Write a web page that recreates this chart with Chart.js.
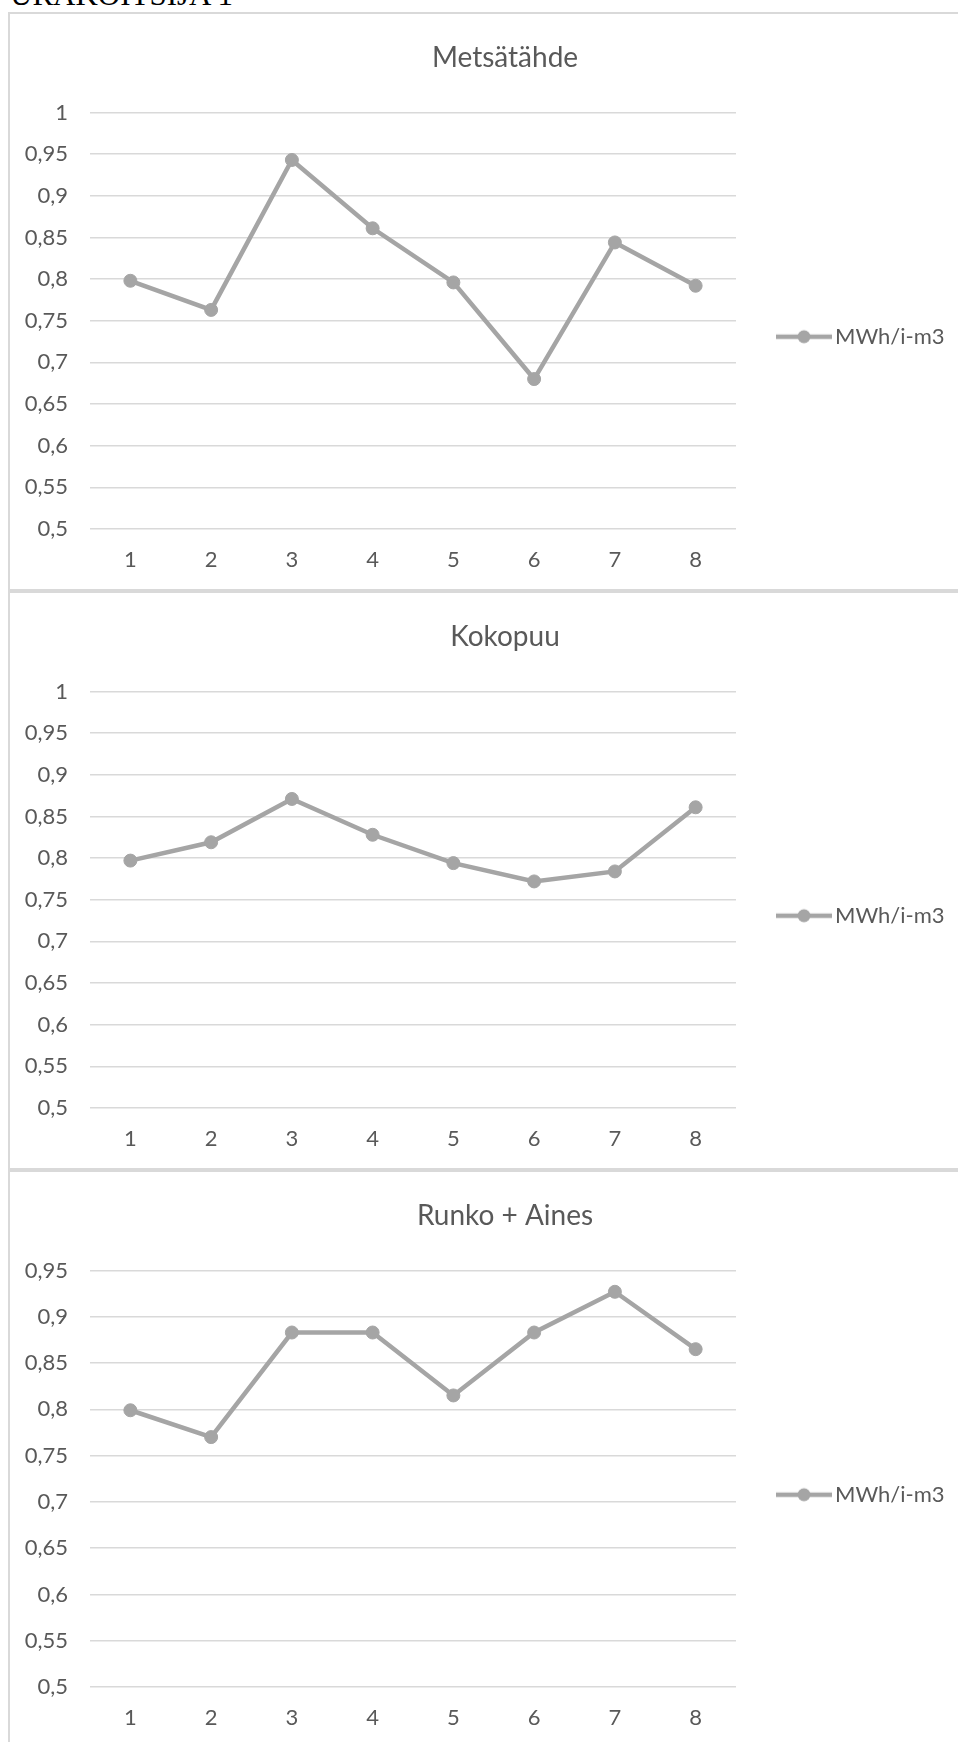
<!DOCTYPE html>
<html>
<head>
<meta charset="utf-8">
<script src="https://cdn.jsdelivr.net/npm/chart.js@4/dist/chart.umd.min.js"></script>
<style>
  html, body { margin: 0; padding: 0; background: #fff; width: 958px; height: 1742px; overflow: hidden; position: relative; }
  .head { position: absolute; left: 10px; top: -21px; font: 31px/31px "Liberation Serif", "Times New Roman", serif; color: #000; white-space: nowrap; }
  .box { position: absolute; left: 8px; width: 1010px; height: 579px; box-sizing: border-box; border: 2px solid #d9d9d9; background: #fff; }
  .box canvas { display: block; }
</style>
</head>
<body>
<div class="head">URAKOITSIJA 1</div>
<div class="box" style="top:12px"><canvas id="c1" width="1000" height="575" style="width:1000px;height:575px"></canvas></div>
<div class="box" style="top:591px"><canvas id="c2" width="1000" height="575" style="width:1000px;height:575px"></canvas></div>
<div class="box" style="top:1170px"><canvas id="c3" width="1000" height="575" style="width:1000px;height:575px"></canvas></div>
<script>
const categories = ['1', '2', '3', '4', '5', '6', '7', '8'];
const metsatahde = [0.798, 0.763, 0.943, 0.861, 0.796, 0.680, 0.844, 0.792];
const kokopuu    = [0.797, 0.819, 0.871, 0.828, 0.794, 0.772, 0.784, 0.861];
const runkoAines = [0.799, 0.770, 0.883, 0.883, 0.815, 0.883, 0.927, 0.865];
const yTicksTo1   = [0.5, 0.55, 0.6, 0.65, 0.7, 0.75, 0.8, 0.85, 0.9, 0.95, 1];
const yTicksTo095 = [0.5, 0.55, 0.6, 0.65, 0.7, 0.75, 0.8, 0.85, 0.9, 0.95];
const seriesName = 'MWh/i-m3';

const GRAY = '#a5a5a5';
const TEXT = '#595959';
const GRID = '#d9d9d9';
const FONT = 'Lato';
const FS = 22;

// Layout geometry inside each canvas (px)
const PLOT_LEFT = 80, PLOT_RIGHT = 726, TITLE_CX = 495;
const LEGEND_PAD = 48, PSW = 40;

// Legend symbol: a short line with a round marker in the middle
function legendIcon() {
  const c = document.createElement('canvas');
  c.width = 56; c.height = 16;
  const g = c.getContext('2d');
  g.strokeStyle = GRAY; g.lineWidth = 4.5;
  g.beginPath(); g.moveTo(0, 8); g.lineTo(56, 8); g.stroke();
  g.fillStyle = GRAY;
  g.beginPath(); g.arc(28, 8, 6.5, 0, Math.PI * 2); g.fill();
  return c;
}
const icon = legendIcon();

const mctx = document.createElement('canvas').getContext('2d');
mctx.font = 'normal ' + FS + 'px ' + FONT;
const tw = mctx.measureText(seriesName).width;
const legendW = LEGEND_PAD + PSW + FS / 2 + tw + 10;
const W = 1000;
const padR = W - PLOT_RIGHT - legendW;

// Keep the chart title centred on the whole frame rather than on the padded area
const centreTitle = {
  id: 'centreTitle',
  afterLayout(chart) {
    const t = chart.titleBlock;
    if (!t) return;
    const half = (t.right - t.left) / 2;
    t.left = TITLE_CX - half;
    t.right = TITLE_CX + half;
  }
};

function makeChart(id, title, values, yTicks) {
  new Chart(document.getElementById(id), {
    type: 'line',
    data: {
      labels: categories,
      datasets: [{
        label: seriesName,
        data: values,
        borderColor: GRAY,
        backgroundColor: GRAY,
        borderWidth: 4.5,
        tension: 0,
        pointRadius: 6.5,
        pointBackgroundColor: GRAY,
        pointBorderColor: GRAY,
        pointBorderWidth: 1,
        clip: false
      }]
    },
    plugins: [centreTitle],
    options: {
      responsive: false,
      animation: false,
      devicePixelRatio: 1,
      layout: { padding: { left: 0, right: padR, top: 0, bottom: 0 } },
      plugins: {
        tooltip: { enabled: false },
        title: {
          display: true,
          text: title,
          color: TEXT,
          font: { family: FONT, size: 28, weight: 'normal' },
          padding: { top: 27, bottom: 98.5 - 27 - 33.6 }
        },
        legend: {
          position: 'right',
          fullSize: false,
          align: 'center',
          title: { display: true, text: '', padding: { top: 20, bottom: 0 }, font: { size: 10 } },
          labels: {
            usePointStyle: true,
            pointStyleWidth: PSW,
            padding: LEGEND_PAD,
            color: TEXT,
            font: { family: FONT, size: FS },
            generateLabels: chart => chart.data.datasets.map((ds, i) => ({
              text: ds.label,
              pointStyle: icon,
              fillStyle: GRAY,
              strokeStyle: GRAY,
              lineWidth: 0,
              hidden: false,
              datasetIndex: i,
              fontColor: TEXT
            }))
          }
        }
      },
      scales: {
        x: {
          offset: true,
          grid: { display: false, drawTicks: false },
          border: { display: false },
          afterFit: s => { s.height = 60; },
          ticks: { padding: 18, color: TEXT, font: { family: FONT, size: FS } }
        },
        y: {
          min: yTicks[0],
          max: yTicks[yTicks.length - 1],
          afterBuildTicks: s => { s.ticks = yTicks.map(v => ({ value: v })); },
          afterFit: s => { s.width = PLOT_LEFT; },
          grid: { color: GRID, lineWidth: 1.5, drawTicks: false },
          border: { display: false },
          ticks: {
            padding: 22,
            color: TEXT,
            font: { family: FONT, size: FS },
            callback: v => String(v).replace('.', ',')
          }
        }
      }
    }
  });
}

makeChart('c1', 'Metsätähde', metsatahde, yTicksTo1);
makeChart('c2', 'Kokopuu', kokopuu, yTicksTo1);
makeChart('c3', 'Runko + Aines', runkoAines, yTicksTo095);
</script>
</body>
</html>
